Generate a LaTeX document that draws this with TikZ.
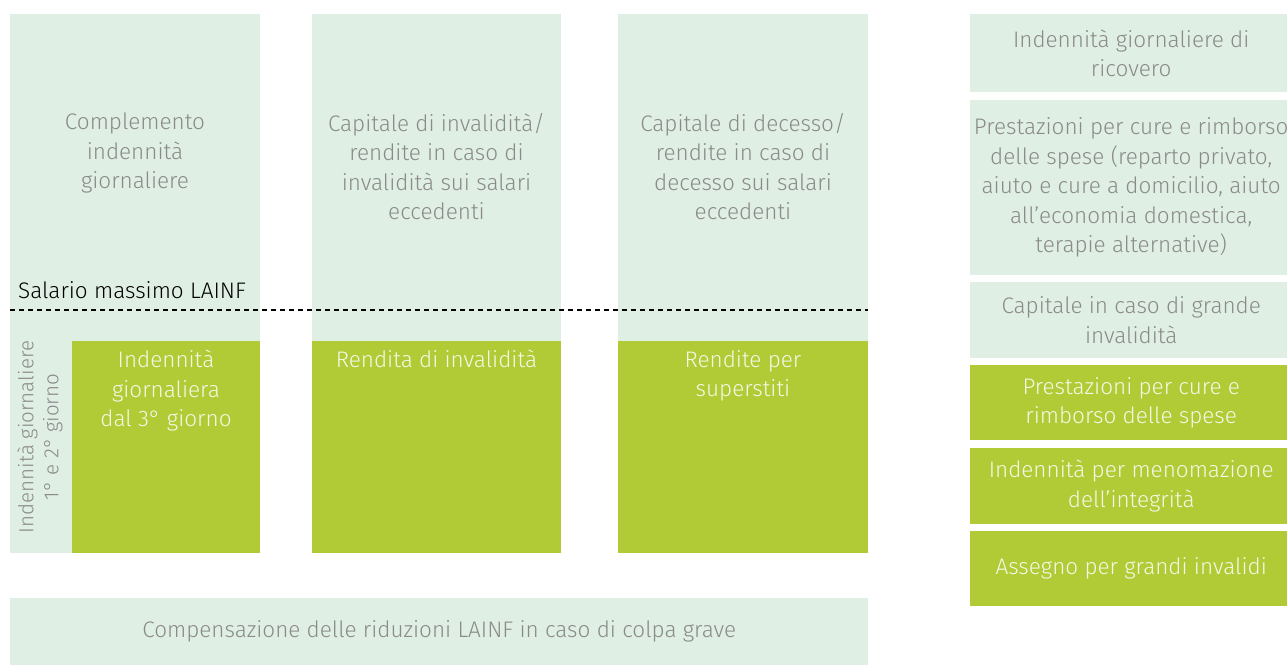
\documentclass[tikz,border=0pt]{standalone}
\usepackage{fontspec}
\setmainfont{Fira Sans}[UprightFont=* Light, Ligatures=NoCommon]
\usetikzlibrary{positioning}
\definecolor{palegreen}{HTML}{E0EFE3}
\definecolor{leafgreen}{HTML}{B0CB36}
\definecolor{softgray}{HTML}{8A8A8A}
\definecolor{softwhite}{HTML}{F4F8E6}
\tikzset{
  box/.style={anchor=north west, inner sep=0pt, draw=none, minimum width=#1},
  pale/.style={box=#1, fill=palegreen},
  leaf/.style={box=#1, fill=leafgreen},
  paletext/.style={text=softgray, align=center, inner sep=0pt},
  leaftext/.style={text=softwhite, align=center, inner sep=0pt},
}
\begin{document}
\begin{tikzpicture}[x=1pt,y=-1pt]
\fontsize{22.5}{29.5}\selectfont
\useasboundingbox (0,0) rectangle (1287,666);
\clip (0,0) rectangle (1287,666);
% three columns
\node[pale=250, minimum height=539] (daily) at (10,14) {};
\node[pale=249, minimum height=539] (invalid) at (312,14) {};
\node[pale=250, minimum height=539] (death) at (618,14) {};
\node[leaf=188, minimum height=212] (dailyg) at (72,341) {};
\node[leaf=249, minimum height=212] (invalidg) at (312,341) {};
\node[leaf=250, minimum height=212] (deathg) at (618,341) {};
\node[paletext, anchor=north] (dailyt) at (135,113) {Complemento\\indennità\\giornaliere};
\node[paletext, anchor=north] (invalidt) at (436.5,113) {Capitale di invalidità/\\rendite in caso di\\invalidità sui salari\\eccedenti};
\node[paletext, anchor=north] (deatht) at (743,113) {Capitale di decesso/\\rendite in caso di\\decesso sui salari\\eccedenti};
\node[leaftext, anchor=north] (dailygt) at (166,350) {Indennità\\giornaliera\\dal 3° giorno};
\node[leaftext, anchor=north] (invalidgt) at (436.5,350) {Rendita di invalidità};
\node[leaftext, anchor=north] (deathgt) at (743,350) {Rendite per\\superstiti};
\node[paletext, rotate=90, anchor=center, font=\fontsize{20.5}{25}\selectfont] (firstdays) at (40,437) {Indennità giornaliere\\1° e 2° giorno};
% maximum salary
\node[anchor=base west, inner sep=0pt, text=black] (maxsal) at (18,298) {Salario massimo LAINF};
\coordinate (capL) at (10,310);
\coordinate (capR) at (868,310);
\draw[dashed, dash pattern=on 5pt off 4pt, line width=1.6pt] (capL) -- (capR);
% bottom bar
\node[pale=858, minimum height=67] (fault) at (10,598) {};
\node[paletext] (faultt) at (fault.center) {Compensazione delle riduzioni LAINF in caso di colpa grave};
% right column
\node[pale=322, minimum height=78] (r1) at (970,14) {};
\node[pale=322, minimum height=175] (r2) at (970,100) {};
\node[pale=322, minimum height=76] (r3) at (970,282) {};
\node[leaf=322, minimum height=75] (r4) at (970,365) {};
\node[leaf=322, minimum height=76] (r5) at (970,448) {};
\node[leaf=322, minimum height=75] (r6) at (970,531) {};
\node[paletext] (r1t) at (r1.center) {Indennità giornaliere di\\ricovero};
\node[paletext] (r2t) at (r2.center) {Prestazioni per cure e rimborso\\delle spese (reparto privato,\\aiuto e cure a domicilio, aiuto\\all’economia domestica,\\terapie alternative)};
\node[paletext] (r3t) at (r3.center) {Capitale in caso di grande\\invalidità};
\node[leaftext] (r4t) at (r4.center) {Prestazioni per cure e\\rimborso delle spese};
\node[leaftext] (r5t) at (r5.center) {Indennità per menomazione\\dell’integrità};
\node[leaftext] (r6t) at (r6.center) {Assegno per grandi invalidi};
\end{tikzpicture}
\end{document}
